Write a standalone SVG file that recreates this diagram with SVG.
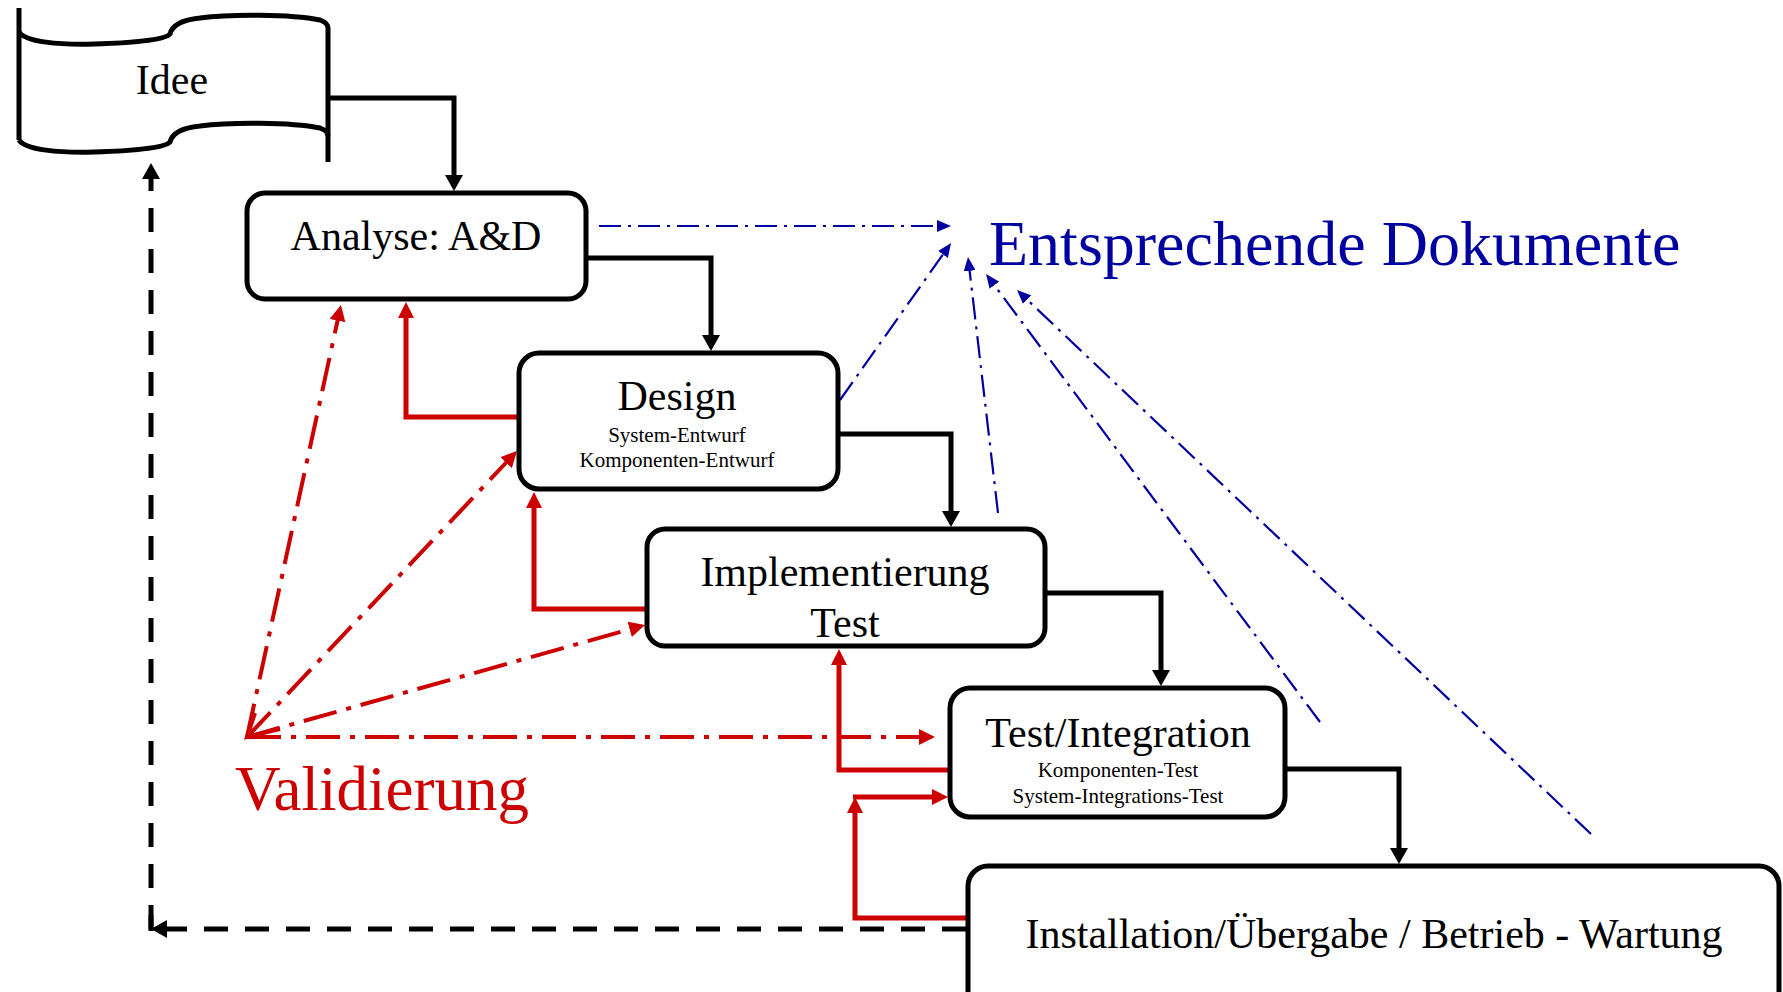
<svg xmlns="http://www.w3.org/2000/svg" width="1783" height="992" viewBox="0 0 1783 992">
<style>
.box{fill:#fff;stroke:#000;stroke-width:5}
.t{font-family:"Liberation Serif","Times New Roman",serif;fill:#000;text-anchor:middle}
.big{font-size:42px}
.small{font-size:21px}
.blk{fill:none;stroke:#000;stroke-width:5}
.dash{fill:none;stroke:#000;stroke-width:5;stroke-dasharray:24 17}
.red{fill:none;stroke:#CC0000;stroke-width:5}
.reddd{fill:none;stroke:#CC0000;stroke-width:4;stroke-dasharray:34 10 5 10}
.blue{fill:none;stroke:#0000A0;stroke-width:2.2;stroke-dasharray:22 7 3 7}
</style>
<defs>
<marker id="ab" viewBox="0 0 16 18" refX="3" refY="9" markerWidth="16" markerHeight="18" markerUnits="userSpaceOnUse" orient="auto"><path d="M0,0 L16,9 L0,18 Z" fill="#000"/></marker>
<marker id="ar" viewBox="0 0 16 16" refX="3" refY="8" markerWidth="16" markerHeight="16" markerUnits="userSpaceOnUse" orient="auto"><path d="M0,0 L16,8 L0,16 Z" fill="#CC0000"/></marker>
<marker id="abl" viewBox="0 0 14 12" refX="2" refY="6" markerWidth="14" markerHeight="12" markerUnits="userSpaceOnUse" orient="auto"><path d="M0,0 L14,6 L0,12 Z" fill="#0000A0"/></marker>
</defs>
<rect width="1783" height="992" fill="#fff"/>

<g id="connectors">
<path class="blk" d="M328,98 H454 V178" marker-end="url(#ab)"/>
<path class="blk" d="M587,258 H711 V338" marker-end="url(#ab)"/>
<path class="blk" d="M838,434 H951 V514" marker-end="url(#ab)"/>
<path class="blk" d="M1045,593 H1161 V673" marker-end="url(#ab)"/>
<path class="blk" d="M1285,769 H1399 V851" marker-end="url(#ab)"/>
<path class="dash" d="M966,929 H164" marker-end="url(#ab)"/>
<path class="dash" d="M151,929 V176" marker-end="url(#ab)"/>
<path class="blk" d="M151,931 V915"/>

<path class="red" d="M519,417 H406 V315" marker-end="url(#ar)"/>
<path class="red" d="M646,609 H534 V505" marker-end="url(#ar)"/>
<path class="red" d="M949,770 H839 V662" marker-end="url(#ar)"/>
<path class="red" d="M968,918 H855 V810" marker-end="url(#ar)"/>
<path class="red" d="M853,797 H935" marker-end="url(#ar)"/>

<path class="reddd" d="M247,737 L338.2,317.7" marker-end="url(#ar)"/>
<path class="reddd" d="M247,737 L508.1,460.5" marker-end="url(#ar)"/>
<path class="reddd" d="M247,737 L632.5,628.5" marker-end="url(#ar)"/>
<path class="reddd" d="M247,737 L922,737" marker-end="url(#ar)"/>
<path fill="none" stroke="#CC0000" stroke-width="4" d="M255,713 L247,737 L280,729"/>

<path class="blue" d="M599,226 H939" marker-end="url(#abl)"/>
<path class="blue" d="M840,400 L944.1,252.8" marker-end="url(#abl)"/>
<path class="blue" d="M998,513 L969.4,268.9" marker-end="url(#abl)"/>
<path class="blue" d="M1320,722 L993.2,283.6" marker-end="url(#abl)"/>
<path class="blue" d="M1591,834 L1025.7,298.3" marker-end="url(#abl)"/>
</g>

<g id="idee">
<path fill="#fff" stroke="none" d="M19,32 C25,42 60,45 94,44 C130,43 165,40 170,34 C172,26 180,20 200,18 C230,14 290,14 320,20 Q328,23 328,28 V136 Q328,131 320,128 C290,122 230,122 200,126 C180,128 172,134 170,142 C165,148 130,151 94,152 C60,153 25,150 19,140 Z"/>
<path fill="none" stroke="#000" stroke-width="5" d="M19,32 C25,42 60,45 94,44 C130,43 165,40 170,34 C172,26 180,20 200,18 C230,14 290,14 320,20 Q328,23 328,28"/>
<path fill="none" stroke="#000" stroke-width="5" d="M19,140 C25,150 60,153 94,152 C130,151 165,148 170,142 C172,134 180,128 200,126 C230,122 290,122 320,128 Q328,131 328,136"/>
<path fill="none" stroke="#000" stroke-width="5" d="M19,8 V140 M328,28 V162"/>
<text class="t big" x="172" y="94">Idee</text>
</g>

<g id="analyse">
<rect class="box" x="247" y="193" width="339" height="106" rx="18"/>
<text class="t big" x="416" y="250">Analyse: A&amp;D</text>
</g>

<g id="design">
<rect class="box" x="519" y="353" width="319" height="136" rx="20"/>
<text class="t big" x="677" y="410">Design</text>
<text class="t small" x="677" y="442">System-Entwurf</text>
<text class="t small" x="677" y="467">Komponenten-Entwurf</text>
</g>

<g id="implementierung">
<rect class="box" x="647" y="529" width="398" height="117" rx="18"/>
<text class="t big" x="845" y="586">Implementierung</text>
<text class="t big" x="845" y="637">Test</text>
</g>

<g id="testintegration">
<rect class="box" x="950" y="688" width="335" height="129" rx="20"/>
<text class="t big" x="1118" y="747">Test/Integration</text>
<text class="t small" x="1118" y="777">Komponenten-Test</text>
<text class="t small" x="1118" y="803">System-Integrations-Test</text>
</g>

<g id="installation">
<rect class="box" x="968" y="866" width="811" height="150" rx="20"/>
<text class="t big" x="1374" y="948">Installation/Übergabe / Betrieb - Wartung</text>
</g>

<g id="labels">
<text x="989" y="265" font-family="'Liberation Serif','Times New Roman',serif" font-size="64" fill="#0000A0">Entsprechende Dokumente</text>
<text x="235" y="810" font-family="'Liberation Serif','Times New Roman',serif" font-size="63" fill="#CC0000">Validierung</text>
</g>
</svg>
